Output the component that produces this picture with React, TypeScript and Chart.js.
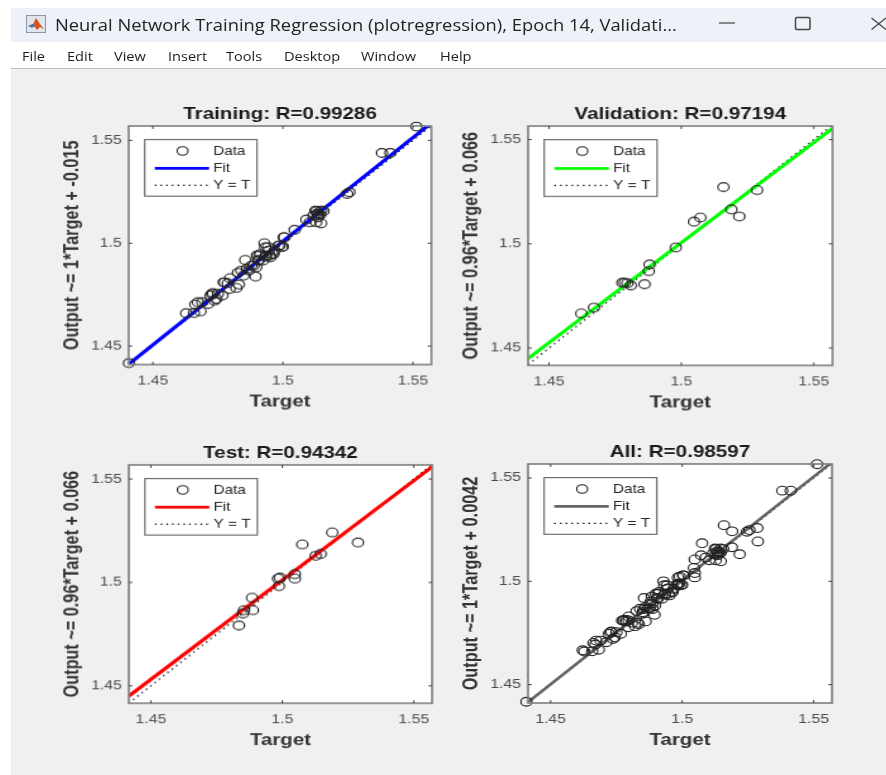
import React, { useEffect, useRef } from "react";
import { Chart, registerables } from "chart.js";

Chart.register(...registerables);

// ---------- data ----------
const tickValues = [1.45, 1.5, 1.55];
const menuItems = ["File", "Edit", "View", "Insert", "Tools", "Desktop", "Window", "Help"];
const legendLabels = ["Data", "Fit", "Y = T"];

const trainTarget = [
  1.4408, 1.4628, 1.4658, 1.4683, 1.4663, 1.4673, 1.469, 1.4712, 1.4722, 1.4731, 1.4737, 1.4744, 1.475,
  1.4767, 1.4776, 1.4788, 1.4797, 1.4795, 1.4821, 1.4831, 1.4827, 1.484, 1.4849, 1.4855, 1.4869, 1.4878,
  1.4895, 1.4897, 1.4904, 1.4908, 1.4923, 1.4933, 1.4929, 1.4942, 1.4949, 1.4959, 1.4968, 1.4987, 1.5,
  1.5006, 1.5045, 1.509, 1.5103, 1.5128, 1.5147, 1.5135, 1.5144, 1.5128, 1.5147, 1.5135, 1.5156, 1.5132,
  1.5247, 1.5256, 1.5381, 1.5413, 1.5513, 1.49, 1.4913, 1.4935, 1.4952, 1.4945, 1.4964, 1.4983, 1.4996,
  1.5003, 1.4932, 1.4887, 1.4907, 1.4862, 1.4772, 1.4727, 1.5125, 1.5137, 1.5118,
];
const trainOutput = [
  1.4417, 1.466, 1.4661, 1.4669, 1.4702, 1.4713, 1.4713, 1.4705, 1.4746, 1.4757, 1.4721, 1.4729, 1.4754,
  1.4746, 1.481, 1.4806, 1.483, 1.4778, 1.4783, 1.4799, 1.4856, 1.4867, 1.4843, 1.4919, 1.4867, 1.4891,
  1.4838, 1.4883, 1.4919, 1.494, 1.4916, 1.4935, 1.5, 1.4981, 1.494, 1.4948, 1.4964, 1.4989, 1.4984,
  1.5029, 1.5065, 1.5115, 1.5102, 1.5156, 1.5159, 1.5135, 1.5139, 1.5102, 1.5097, 1.5126, 1.5156, 1.5145,
  1.524, 1.5248, 1.5439, 1.5439, 1.5567, 1.494, 1.4948, 1.494, 1.4932, 1.4965, 1.4948, 1.4989, 1.4981,
  1.5029, 1.4981, 1.4892, 1.4916, 1.4876, 1.481, 1.4754, 1.5159, 1.5143, 1.5135,
];
const valTarget = [
  1.4622, 1.467, 1.4777, 1.4786, 1.4796, 1.4809, 1.4861, 1.4877, 1.488, 1.4979, 1.5048, 1.5072, 1.5159,
  1.5189, 1.5219, 1.5286,
];
const valOutput = [
  1.4666, 1.4694, 1.4813, 1.4813, 1.4811, 1.48, 1.4806, 1.4869, 1.4901, 1.4982, 1.5106, 1.5126, 1.5272,
  1.5165, 1.5131, 1.5258,
];
const testTarget = [
  1.4835, 1.485, 1.4854, 1.4888, 1.4885, 1.4987, 1.4984, 1.4991, 1.5048, 1.5048, 1.5076, 1.5127, 1.5146,
  1.519, 1.5288,
];
const testOutput = [
  1.4792, 1.485, 1.4866, 1.4866, 1.4926, 1.4982, 1.5019, 1.5023, 1.5019, 1.504, 1.5184, 1.5129, 1.5138,
  1.5242, 1.5193,
];
const allTarget = [...trainTarget, ...valTarget, ...testTarget];
const allOutput = [...trainOutput, ...valOutput, ...testOutput];

const trainFitY = [1.4412, 1.5585];
const valFitY = [1.445, 1.5554];
const testFitY = [1.4451, 1.5559];
const allFitY = [1.4415, 1.5577];

// ---------- panel table ----------
const PLOT_W = 240;
const PLOT_H = 239;
const LEFT_W = 60;
const RIGHT_W = 10;
const TITLE_H = 25;
const BOTTOM_H = 50;

const panels = [
  {
    title: "Training: R=0.99286",
    ylabel: "Output ~= 1*Target + -0.015",
    color: "#0000ff",
    fitWidth: 3.2,
    xs: trainTarget, ys: trainOutput, fitY: trainFitY,
    xr: [1.4407, 1.5571], yr: [1.441, 1.557],
    box: [129, 125.7, 302.7, 238.6],
  },
  {
    title: "Validation: R=0.97194",
    ylabel: "Output ~= 0.96*Target + 0.066",
    color: "#00ff00",
    fitWidth: 3.2,
    xs: valTarget, ys: valOutput, fitY: valFitY,
    xr: [1.4421, 1.5571], yr: [1.4417, 1.5565],
    box: [528.3, 125.7, 304.4, 239.3],
  },
  {
    title: "Test: R=0.94342",
    ylabel: "Output ~= 0.96*Target + 0.066",
    color: "#ff0000",
    fitWidth: 3.2,
    xs: testTarget, ys: testOutput, fitY: testFitY,
    xr: [1.4416, 1.557], yr: [1.4416, 1.5568],
    box: [129, 465, 303.3, 238.3],
  },
  {
    title: "All: R=0.98597",
    ylabel: "Output ~= 1*Target + 0.0042",
    color: "#666666",
    fitWidth: 2.6,
    xs: allTarget, ys: allOutput, fitY: allFitY,
    xr: [1.4414, 1.557], yr: [1.4411, 1.5568],
    box: [528.3, 464.3, 304, 239],
  },
];

const FONT = "'Liberation Sans', Arial, sans-serif";

// Draws white plot face before the marks; frame, inward ticks and legend after them.
const matlabAxes = {
  id: "matlabAxes",
  beforeDatasetsDraw(chart: any) {
    const { ctx, chartArea: a } = chart;
    ctx.save();
    ctx.fillStyle = "#ffffff";
    ctx.fillRect(a.left, a.top, a.right - a.left, a.bottom - a.top);
    ctx.restore();
  },
  afterDraw(chart: any) {
    const { ctx, chartArea: a, scales } = chart;
    ctx.save();
    ctx.strokeStyle = "#7d7d7d";
    ctx.lineWidth = 1.6;
    ctx.strokeRect(a.left, a.top, a.right - a.left, a.bottom - a.top);
    ctx.strokeStyle = "#333333";
    ctx.lineWidth = 0.9;
    ctx.beginPath();
    for (const t of scales.x.ticks) {
      const p = scales.x.getPixelForValue(t.value);
      ctx.moveTo(p, a.bottom); ctx.lineTo(p, a.bottom - 3);
      ctx.moveTo(p, a.top); ctx.lineTo(p, a.top + 3);
    }
    for (const t of scales.y.ticks) {
      const p = scales.y.getPixelForValue(t.value);
      ctx.moveTo(a.left, p); ctx.lineTo(a.left + 3, p);
      ctx.moveTo(a.right, p); ctx.lineTo(a.right - 3, p);
    }
    ctx.stroke();

    // legend box, in the upper-left corner of the axes
    const bx = a.left + 12.7, by = a.top + 13.6, bw = 89, bh = 56.7;
    ctx.fillStyle = "#ffffff";
    ctx.fillRect(bx, by, bw, bh);
    ctx.strokeStyle = "#6e6e6e";
    ctx.lineWidth = 1.2;
    ctx.strokeRect(bx, by, bw, bh);
    const rows = [11.4, 28.7, 45.7];
    const ds = chart.data.datasets;
    ctx.font = `12.2px ${FONT}`;
    ctx.fillStyle = "#262626";
    ctx.textBaseline = "middle";
    ctx.textAlign = "left";
    rows.forEach((r: number, i: number) => ctx.fillText(ds[i].label, bx + 54.2, by + r + 0.5));
    ctx.strokeStyle = "#222222";
    ctx.lineWidth = 1.1;
    ctx.beginPath();
    ctx.arc(bx + 30, by + rows[0], 4.3, 0, Math.PI * 2);
    ctx.stroke();
    ctx.strokeStyle = ds[1].borderColor;
    ctx.lineWidth = 2.8;
    ctx.beginPath();
    ctx.moveTo(bx + 8, by + rows[1]); ctx.lineTo(bx + 51, by + rows[1]);
    ctx.stroke();
    ctx.strokeStyle = "#000000";
    ctx.lineWidth = 1.3;
    ctx.setLineDash([1.3, 3.2]);
    ctx.beginPath();
    ctx.moveTo(bx + 8, by + rows[2]); ctx.lineTo(bx + 51, by + rows[2]);
    ctx.stroke();
    ctx.restore();
  },
};

function axis(range: number[], extra: any) {
  return {
    type: "linear",
    min: range[0],
    max: range[1],
    grid: { display: false, drawTicks: false },
    border: { display: false },
    afterBuildTicks(scale: any) {
      scale.ticks = tickValues.map((value) => ({ value }));
    },
    ...extra,
  };
}

function makeChart(canvas: HTMLCanvasElement, p: any) {
  const tickFont = { family: FONT, size: 12.5 };
  const axisTitleFont = { family: FONT, size: 16.3, weight: "bold" as const };
  return new Chart(canvas, {
    type: "scatter",
    data: {
      datasets: [
        {
          label: legendLabels[0],
          data: p.xs.map((x: number, i: number) => ({ x, y: p.ys[i] })),
          showLine: false,
          pointStyle: "circle",
          pointRadius: 4.4,
          pointBackgroundColor: "transparent",
          pointBorderColor: "#222222",
          pointBorderWidth: 1.1,
          clip: false,
        },
        {
          label: legendLabels[1],
          data: [
            { x: p.xr[0], y: p.fitY[0] },
            { x: p.xr[1], y: p.fitY[1] },
          ],
          showLine: true,
          borderColor: p.color,
          borderWidth: p.fitWidth,
          pointRadius: 0,
        },
        {
          label: legendLabels[2],
          data: [
            { x: p.xr[0], y: p.xr[0] },
            { x: p.xr[1], y: p.xr[1] },
          ],
          showLine: true,
          borderColor: "#000000",
          borderWidth: 1.3,
          borderDash: [1.3, 3.5],
          pointRadius: 0,
        },
      ],
    } as any,
    options: {
      animation: false,
      responsive: false,
      maintainAspectRatio: false,
      layout: { padding: { left: 0, right: RIGHT_W, top: 0, bottom: 0 } },
      plugins: {
        legend: { display: false },
        tooltip: { enabled: false },
        title: {
          display: true,
          fullSize: false,
          text: p.title,
          color: "#1a1a1a",
          font: { family: FONT, size: 16.3, weight: "bold" },
          padding: { top: 3.44, bottom: 2 },
        },
      },
      scales: {
        x: axis(p.xr, {
          ticks: {
            font: tickFont, color: "#4d4d4d", padding: 9, maxRotation: 0, autoSkip: false,
            callback: (v: number) => String(v),
          },
          title: { display: true, text: "Target", color: "#333333", font: axisTitleFont, padding: { top: 0, bottom: 3 } },
          afterFit(s: any) { s.height = BOTTOM_H; },
        }),
        y: axis(p.yr, {
          ticks: {
            font: tickFont, color: "#4d4d4d", padding: 5.5, autoSkip: false,
            callback: (v: number) => String(v),
          },
          title: { display: true, text: p.ylabel, color: "#333333", font: axisTitleFont, padding: { top: 6, bottom: 0 } },
          afterFit(s: any) { s.width = LEFT_W; },
        }),
      },
    } as any,
    plugins: [matlabAxes],
  } as any);
}

function Panel({ p }: { p: any }) {
  const ref = useRef<HTMLCanvasElement>(null);
  useEffect(() => {
    const c = makeChart(ref.current!, p);
    return () => c.destroy();
  }, [p]);
  const [bx, by, bw, bh] = p.box;
  const sx = bw / PLOT_W;
  const sy = bh / PLOT_H;
  const W = LEFT_W + PLOT_W + RIGHT_W;
  const H = TITLE_H + PLOT_H + BOTTOM_H;
  return (
    <canvas
      ref={ref}
      width={W}
      height={H}
      style={{
        position: "absolute",
        left: bx - LEFT_W * sx,
        top: by - TITLE_H * sy,
        width: W,
        height: H,
        transformOrigin: "0 0",
        transform: `scale(${sx}, ${sy})`,
        filter: "blur(0.45px)",
      }}
    />
  );
}

const menuX = [22, 67, 114, 168, 226, 284, 361, 440];

export default function App() {
  useEffect(() => {
    document.body.style.margin = "0";
    document.body.style.background = "#ffffff";
  }, []);
  const uiFont = "'Open Sans', 'Noto Sans', sans-serif";
  return (
    <div style={{ position: "absolute", left: 0, top: 0, width: 886, height: 775, overflow: "hidden", background: "#fff" }}>
      <div style={{ position: "absolute", left: 11, top: 8, width: 875, height: 34, background: "#eef2f8" }} />
      <svg style={{ position: "absolute", left: 26, top: 15 }} width="20" height="18" viewBox="0 0 20 18">
        <rect x="0.5" y="0.5" width="19" height="17" fill="#dfe6ee" stroke="#8d99a6" />
        <path d="M2 11 L7 9 L10 3 L14 9 L18 14 L14 12 L11 15 L8 11 Z" fill="#d9541e" />
        <path d="M2 11 L7 9 L9 11 L6 13 Z" fill="#3c7fb5" />
      </svg>
      <div style={{ position: "absolute", left: 55, top: 13, fontFamily: uiFont, fontSize: 16.8, lineHeight: "24px", color: "#222", whiteSpace: "nowrap", transformOrigin: "0 0", transform: "scaleX(1.093)", filter: "blur(0.3px)" }}>
        Neural Network Training Regression (plotregression), Epoch 14, Validati...
      </div>
      <svg style={{ position: "absolute", left: 716, top: 8 }} width="170" height="34">
        <line x1="3" y1="15" x2="19" y2="15" stroke="#444" strokeWidth="1.2" />
        <rect x="79.5" y="9.5" width="14.5" height="12" rx="1.5" fill="none" stroke="#444" strokeWidth="1.5" />
        <path d="M155.5 10 L170 21.5 M170 10 L155.5 21.5" stroke="#444" strokeWidth="1.3" />
      </svg>
      <div style={{ position: "absolute", left: 11, top: 42, width: 875, height: 26, background: "#ffffff" }} />
      {menuItems.map((m, i) => (
        <div key={m} style={{ position: "absolute", left: menuX[i], top: 46, fontFamily: uiFont, fontSize: 13, lineHeight: "20px", color: "#1c1c1c", transformOrigin: "0 0", transform: "scaleX(1.12)", filter: "blur(0.25px)" }}>
          {m}
        </div>
      ))}
      <div style={{ position: "absolute", left: 11, top: 68, width: 875, height: 707, background: "#f0f0f0", borderTop: "1px solid #bdbdbd", boxSizing: "border-box" }} />
      {panels.map((p) => (
        <Panel key={p.title} p={p} />
      ))}
    </div>
  );
}
